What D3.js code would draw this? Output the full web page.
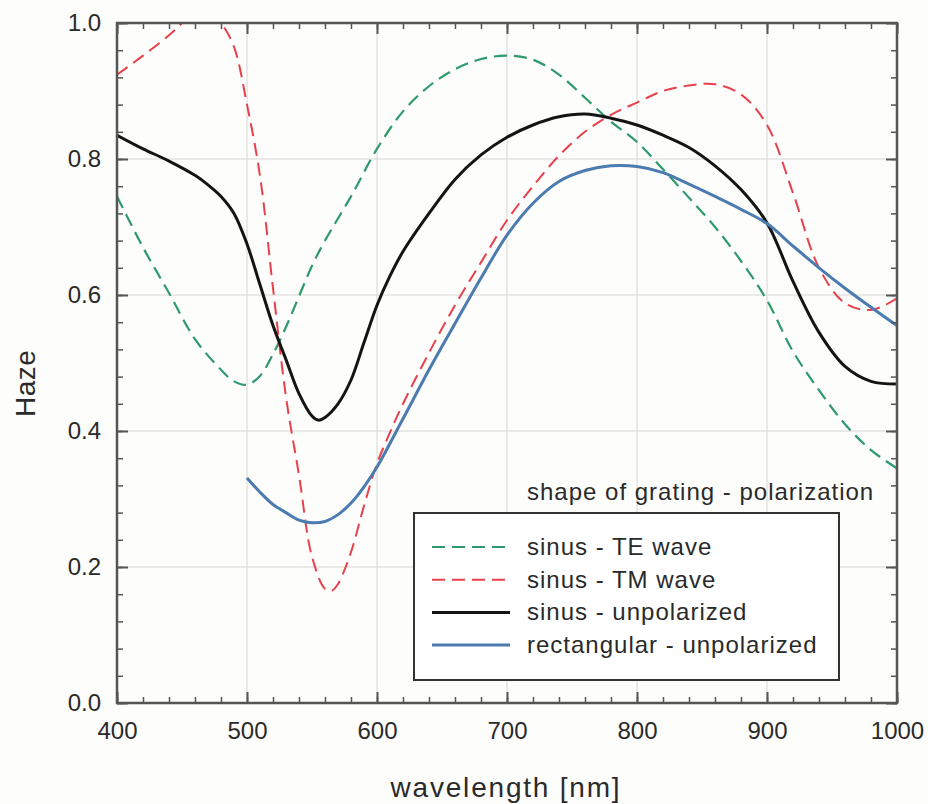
<!DOCTYPE html>
<html>
<head>
<meta charset="utf-8">
<script src="https://cdn.jsdelivr.net/npm/d3@7/dist/d3.min.js"></script>
<style>
  html, body { margin: 0; padding: 0; background: #fdfdfb; }
  svg { display: block; font-family: "Liberation Sans", Arial, sans-serif; }
</style>
</head>
<body>
<svg id="chart" width="928" height="804"></svg>
<script>
// ---- data ----
const teWavelength = [400,420,440,460,480,490,500,510,520,530,540,550,560,580,600,620,640,660,680,700,720,740,760,780,800,820,840,860,880,900,920,940,960,980,1000];
const teHaze       = [0.745,0.67,0.603,0.535,0.49,0.473,0.468,0.481,0.513,0.553,0.598,0.643,0.68,0.745,0.815,0.87,0.907,0.932,0.947,0.952,0.946,0.924,0.89,0.855,0.825,0.785,0.743,0.70,0.65,0.592,0.517,0.46,0.41,0.372,0.345];

const tmWavelength = [400,420,440,450,460,470,480,490,500,510,520,530,540,550,560,565,570,580,590,600,610,620,640,660,680,700,720,740,760,780,800,820,840,860,880,900,920,940,960,980,1000];
const tmHaze       = [0.924,0.952,0.982,1.0,1.02,1.02,1.0,0.965,0.88,0.775,0.61,0.45,0.335,0.215,0.168,0.165,0.175,0.222,0.29,0.352,0.398,0.44,0.515,0.585,0.648,0.71,0.76,0.805,0.84,0.865,0.883,0.9,0.908,0.91,0.895,0.85,0.75,0.64,0.588,0.578,0.595];

const unpolWavelength = [400,420,440,460,470,480,490,500,510,520,530,540,550,555,560,570,580,590,600,610,620,640,660,680,700,720,740,760,780,800,820,840,860,880,900,920,940,960,980,1000];
const unpolHaze       = [0.835,0.815,0.797,0.776,0.762,0.745,0.72,0.675,0.615,0.555,0.505,0.455,0.422,0.416,0.42,0.44,0.475,0.53,0.585,0.628,0.664,0.72,0.77,0.806,0.832,0.85,0.862,0.866,0.86,0.85,0.835,0.817,0.79,0.755,0.706,0.62,0.545,0.495,0.473,0.469];

const rectWavelength = [500,510,520,530,540,550,560,570,580,590,600,620,640,660,680,700,720,740,760,780,800,820,840,860,880,900,920,940,960,980,1000];
const rectHaze       = [0.331,0.31,0.292,0.28,0.269,0.265,0.267,0.277,0.294,0.318,0.347,0.418,0.49,0.558,0.625,0.688,0.735,0.767,0.783,0.79,0.789,0.78,0.763,0.745,0.726,0.705,0.672,0.64,0.61,0.582,0.555];

const seriesNames  = ["sinus - TE wave", "sinus - TM wave", "sinus - unpolarized", "rectangular - unpolarized"];
const xTickLabels  = [400,500,600,700,800,900,1000];
const yTickLabels  = [0.0,0.2,0.4,0.6,0.8,1.0];
const legendTitle  = "shape of grating - polarization";
const xTitle = "wavelength [nm]";
const yTitle = "Haze";

// ---- layout ----
const svg = d3.select("#chart");
const M = {left: 117, top: 23, right: 31, bottom: 101};
const W = 928 - M.left - M.right, H = 804 - M.top - M.bottom;

const x = d3.scaleLinear().domain([400, 1000]).range([M.left, M.left + W]);
const y = d3.scaleLinear().domain([0, 1]).range([M.top + H, M.top]);

const styles = [
  {color: "#2e9a6c", width: 2.2, dash: "13,7"},
  {color: "#e8404c", width: 2.0, dash: "13,7"},
  {color: "#141414", width: 3.0, dash: null},
  {color: "#4c7bb0", width: 3.0, dash: null}
];
const series = [
  {xs: teWavelength, ys: teHaze},
  {xs: tmWavelength, ys: tmHaze},
  {xs: unpolWavelength, ys: unpolHaze},
  {xs: rectWavelength, ys: rectHaze}
];

// grid
const xMinor = d3.range(400, 1000.1, 20);
const yMinor = d3.range(0, 1.0001, 0.04);
svg.append("g").selectAll("line").data(xTickLabels.slice(1, -1)).join("line")
  .attr("x1", d => x(d)).attr("x2", d => x(d)).attr("y1", y(0)).attr("y2", y(1))
  .attr("stroke", "#d6d6d6").attr("stroke-width", 1);
svg.append("g").selectAll("line").data(yTickLabels.slice(1, -1)).join("line")
  .attr("y1", d => y(d)).attr("y2", d => y(d)).attr("x1", x(400)).attr("x2", x(1000))
  .attr("stroke", "#d6d6d6").attr("stroke-width", 1);

// clip
svg.append("clipPath").attr("id", "plotclip").append("rect")
  .attr("x", x(400)).attr("y", y(1)).attr("width", W).attr("height", H);

// lines
const lineGen = d3.line().curve(d3.curveCatmullRom.alpha(0.5));
const gLines = svg.append("g").attr("clip-path", "url(#plotclip)");
series.forEach((s, i) => {
  const pts = s.xs.map((v, k) => [x(v), y(s.ys[k])]);
  gLines.append("path").attr("d", lineGen(pts))
    .attr("fill", "none").attr("stroke", styles[i].color)
    .attr("stroke-width", styles[i].width)
    .attr("stroke-dasharray", styles[i].dash)
    .attr("stroke-linejoin", "round");
});

// axes: ticks inward on all four sides
const axisColor = "#555";
function minorTicks(axisFn, scale, vals, size, tr) {
  const g = svg.append("g").attr("transform", tr)
    .call(axisFn(scale).tickValues(vals).tickSize(size).tickFormat(""));
  g.select(".domain").remove();
  g.selectAll("line").attr("stroke", axisColor).attr("stroke-width", 1.5);
}
minorTicks(d3.axisBottom, x, xMinor, -6, `translate(0,${y(0)})`);
minorTicks(d3.axisTop, x, xMinor, -6, `translate(0,${y(1)})`);
minorTicks(d3.axisLeft, y, yMinor, -6, `translate(${x(400)},0)`);
minorTicks(d3.axisRight, y, yMinor, -6, `translate(${x(1000)},0)`);

const gx = svg.append("g").attr("transform", `translate(0,${y(0)})`)
  .call(d3.axisBottom(x).tickValues(xTickLabels).tickSize(-11).tickPadding(19).tickFormat(d3.format("d")));
const gy = svg.append("g").attr("transform", `translate(${x(400)},0)`)
  .call(d3.axisLeft(y).tickValues(yTickLabels).tickSize(-11).tickPadding(16).tickFormat(d3.format(".1f")));
const gxt = svg.append("g").attr("transform", `translate(0,${y(1)})`)
  .call(d3.axisTop(x).tickValues(xTickLabels).tickSize(-11).tickFormat(""));
const gyr = svg.append("g").attr("transform", `translate(${x(1000)},0)`)
  .call(d3.axisRight(y).tickValues(yTickLabels).tickSize(-11).tickFormat(""));
[gx, gy, gxt, gyr].forEach(g => {
  g.select(".domain").remove();
  g.selectAll("line").attr("stroke", axisColor).attr("stroke-width", 2);
  g.selectAll("text").attr("fill", "#2a2a2a").style("font-size", "24px");
});

// frame
svg.append("rect").attr("x", x(400)).attr("y", y(1)).attr("width", W).attr("height", H)
  .attr("fill", "none").attr("stroke", axisColor).attr("stroke-width", 2.5);

// axis titles
svg.append("text").attr("x", 506).attr("y", 797).attr("text-anchor", "middle")
  .attr("fill", "#2a2a2a").style("font-size", "28px").style("letter-spacing", "1.8px").text(xTitle);
svg.append("text").attr("transform", `translate(35,${y(0.47)}) rotate(-90)`).attr("text-anchor", "middle")
  .attr("fill", "#2a2a2a").style("font-size", "28px").style("letter-spacing", "0.5px").text(yTitle);

// legend
const lg = svg.append("g");
lg.append("text").attr("x", 527).attr("y", 500).attr("fill", "#2a2a2a")
  .style("font-size", "24px").style("letter-spacing", "1px").text(legendTitle);
lg.append("rect").attr("x", 414).attr("y", 513).attr("width", 425).attr("height", 167)
  .attr("fill", "#ffffff").attr("stroke", "#333").attr("stroke-width", 2);
seriesNames.forEach((name, i) => {
  const cy = 547 + i * 32.7;
  lg.append("line").attr("x1", 432).attr("x2", 510).attr("y1", cy).attr("y2", cy)
    .attr("stroke", styles[i].color).attr("stroke-width", styles[i].width)
    .attr("stroke-dasharray", styles[i].dash);
  lg.append("text").attr("x", 527).attr("y", cy + 8).attr("fill", "#2a2a2a")
    .style("font-size", "24px").style("letter-spacing", "1px").text(name);
});
</script>
</body>
</html>
